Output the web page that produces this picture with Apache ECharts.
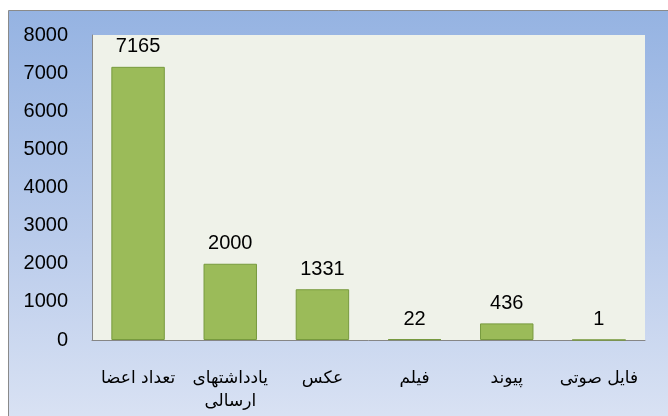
<!DOCTYPE html>
<html>
<head>
<meta charset="utf-8">
<script src="https://cdn.jsdelivr.net/npm/echarts@6/dist/echarts.min.js"></script>
<style>
  html, body { margin: 0; padding: 0; background: #fff; }
  #chart { width: 668px; height: 416px; }
</style>
</head>
<body>
<div id="chart"></div>
<script>
const categories = ["تعداد اعضا", "یادداشتهای\nارسالی", "عکس", "فیلم", "پیوند", "فایل صوتی"];
const values = [7165, 2000, 1331, 22, 436, 1];
const yTicks = { min: 0, max: 8000, interval: 1000 };

const chart = echarts.init(document.getElementById("chart"));

const option = {
  animation: false,
  textStyle: { fontFamily: "Liberation Sans, DejaVu Sans, sans-serif" },
  graphic: [
    {
      type: "rect",
      z: -10,
      shape: { x: 8.5, y: 10.5, width: 700, height: 500 },
      style: {
        fill: new echarts.graphic.LinearGradient(0, 0, 0, 1, [
          { offset: 0, color: "#95b3e2" },
          { offset: 0.45, color: "#b9cbeb" },
          { offset: 0.85, color: "#dce4f4" },
          { offset: 1, color: "#e2e9f6" }
        ]),
        stroke: "#8a8a8a",
        lineWidth: 1
      },
      silent: true
    }
  ],
  grid: {
    left: 92,
    top: 35,
    right: 23,
    bottom: 76,
    show: true,
    backgroundColor: "#eff2e9",
    borderWidth: 0
  },
  xAxis: {
    type: "category",
    data: categories,
    axisLine: { show: true, lineStyle: { color: "#868686", width: 1 } },
    axisTick: { show: false },
    axisLabel: {
      interval: 0,
      margin: 27,
      fontSize: 17,
      lineHeight: 23,
      color: "#000",
      fontFamily: "DejaVu Sans, Noto Sans, sans-serif"
    }
  },
  yAxis: {
    type: "value",
    min: yTicks.min,
    max: yTicks.max,
    interval: yTicks.interval,
    splitLine: { show: false },
    axisLine: { show: true, lineStyle: { color: "#868686", width: 1 } },
    axisTick: { show: false },
    axisLabel: {
      margin: 24,
      fontSize: 20,
      color: "#000",
      formatter: (v) => String(v)
    }
  },
  series: [
    {
      type: "bar",
      data: values,
      barWidth: "58%",
      itemStyle: { color: "#9bbb59", borderColor: "#779a3e", borderWidth: 1 },
      label: {
        show: true,
        position: "top",
        distance: 10,
        fontSize: 20,
        color: "#000"
      }
    }
  ]
};

chart.setOption(option);
</script>
</body>
</html>
